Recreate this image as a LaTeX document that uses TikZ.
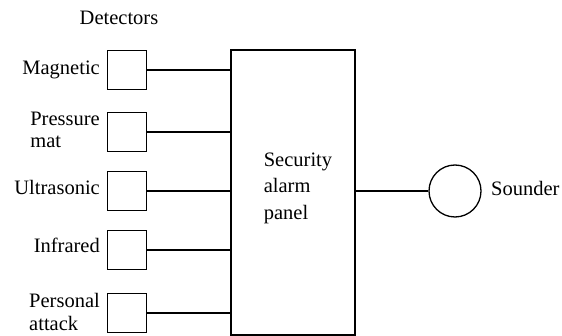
\documentclass[tikz,border=0pt]{standalone}
\usepackage{fontspec}
\setmainfont{Liberation Serif}
\begin{document}
\begin{tikzpicture}[x=1pt,y=-1pt,
  every node/.style={font=\fontsize{20.5}{23}\selectfont},
  det/.style={draw,line width=1.3pt,minimum size=39pt,inner sep=0pt},
  lbl/.style={inner sep=0pt,align=left},
  wire/.style={line width=1.1pt}]
\useasboundingbox (0,0) rectangle (562,336);
\node[lbl,anchor=base] (dettitle) at (119,25) {Detectors};
\node[det] (mag) at (127,70) {};
\node[det] (pre) at (127,132) {};
\node[det] (ult) at (127,191) {};
\node[det] (inf) at (127,250) {};
\node[det] (per) at (127,313) {};
\node[lbl,anchor=base east] (lmag) at (100,75) {Magnetic};
\node[lbl,anchor=east,font=\fontsize{20.5}{22}\selectfont] (lpre) at (100,130) {Pressure\\ mat};
\node[lbl,anchor=base east] (lult) at (100,195) {Ultrasonic};
\node[lbl,anchor=base east] (linf) at (100,253) {Infrared};
\node[lbl,anchor=east,font=\fontsize{20.5}{23}\selectfont] (lper) at (100,312) {Personal\\ attack};
\node[draw,line width=1.3pt,minimum width=124pt,minimum height=285pt,inner sep=0pt] (panel) at (293,192.5) {};
\node[lbl,font=\fontsize{20.5}{26.5}\selectfont] (ptext) at (298,188) {Security\\ alarm\\ panel};
\node[draw,circle,line width=1.3pt,minimum size=52pt,inner sep=0pt] (snd) at (455,191) {};
\node[lbl,anchor=base west] (lsnd) at (491,196) {Sounder};
\foreach \d in {mag,pre,ult,inf,per}
  \draw[wire] (\d.east) -- (\d.east -| panel.west);
\draw[wire] (panel.east |- snd.west) -- (snd.west);
\end{tikzpicture}
\end{document}
